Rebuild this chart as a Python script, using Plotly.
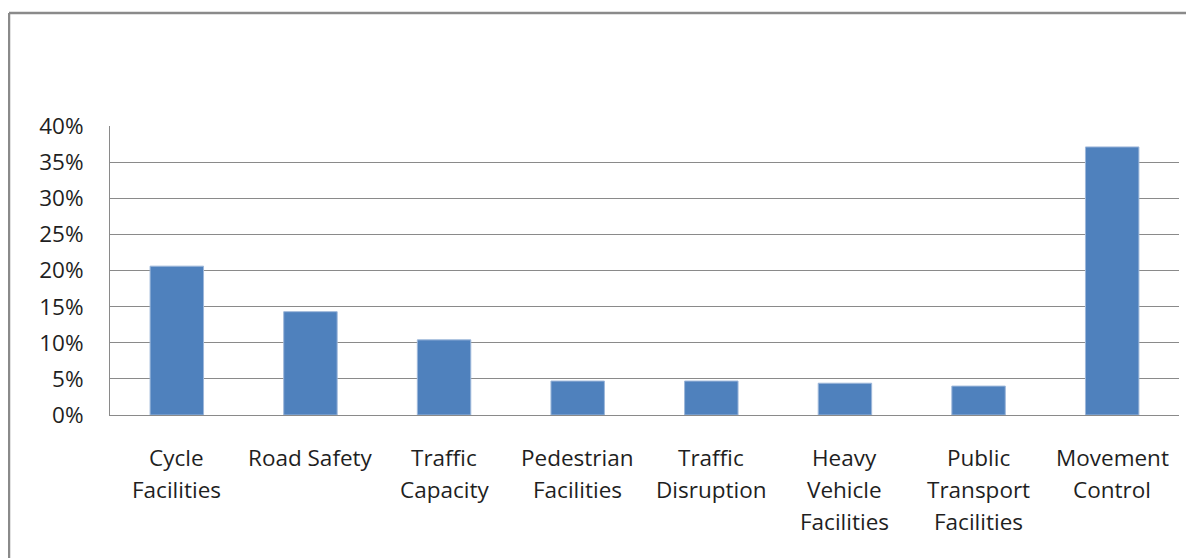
import plotly.graph_objects as go

categories = ["Cycle Facilities", "Road Safety", "Traffic Capacity", "Pedestrian Facilities",
              "Traffic Disruption", "Heavy Vehicle Facilities", "Public Transport Facilities",
              "Movement Control"]
label_lines = [["Cycle", "Facilities"], ["Road Safety"], ["Traffic", "Capacity"],
               ["Pedestrian", "Facilities"], ["Traffic", "Disruption"],
               ["Heavy", "Vehicle", "Facilities"], ["Public", "Transport", "Facilities"],
               ["Movement", "Control"]]
values = [0.206, 0.143, 0.104, 0.047, 0.047, 0.044, 0.040, 0.371]
y_ticks = [0, 0.05, 0.10, 0.15, 0.20, 0.25, 0.30, 0.35, 0.40]

# page body adds an 8px offset; figure coordinates below are compensated
OFF = 8
W, H = 1194, 558
L, R, T, B = 110 - OFF, 23, 126 - OFF, 151
FONT = "'Open Sans', Lato, sans-serif"
FS = 22.5

fig = go.Figure(go.Bar(
    x=categories, y=values,
    marker=dict(color="#4F81BD", line=dict(color="#9DB7DA", width=1)),
))

annotations = []
for cat, lines in zip(categories, label_lines):
    for i, ln in enumerate(lines):
        annotations.append(dict(
            x=cat, y=0, xref="x", yref="y", text=ln, showarrow=False,
            yshift=-(42 + 32 * i), yanchor="middle", xanchor="center",
            font=dict(family=FONT, size=FS, color="#1F1F1F")))

pw = W - L - R
ph = H - T - B
x_left = (9 - OFF - L) / pw
y_top = (H - B - (13 - OFF)) / ph
shapes = [
    dict(type="line", xref="paper", yref="paper", x0=x_left, x1=(W - L) / pw + 0.02,
         y0=y_top, y1=y_top, line=dict(color="#8A8A8A", width=2.5)),
    dict(type="line", xref="paper", yref="paper", x0=x_left, x1=x_left,
         y0=y_top, y1=-(B + 10) / ph, line=dict(color="#8A8A8A", width=2.5)),
]

fig.update_layout(
    width=W, height=H,
    margin=dict(l=L, r=R, t=T, b=B),
    paper_bgcolor="white", plot_bgcolor="white",
    showlegend=False,
    bargap=0.6,
    annotations=annotations,
    shapes=shapes,
    xaxis=dict(showticklabels=False, showline=True, linecolor="#8A8A8A", linewidth=1,
               showgrid=False, ticks="", mirror=False),
    yaxis=dict(range=[0, 0.40], tickvals=y_ticks, tickformat=".0%",
               showgrid=True, gridcolor="#8A8A8A", gridwidth=1,
               showline=True, linecolor="#8A8A8A", linewidth=1,
               ticks="", ticklabelstandoff=21, zeroline=False,
               tickfont=dict(family=FONT, size=FS, color="#1F1F1F")),
)

fig.write_html("out.html")
